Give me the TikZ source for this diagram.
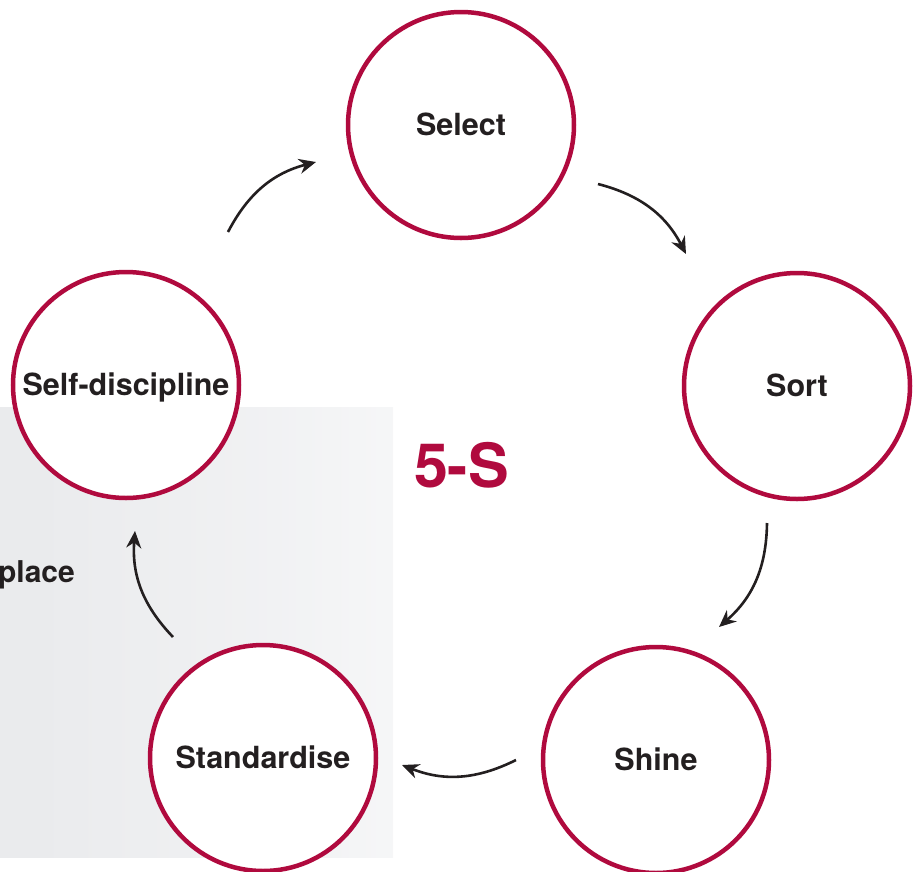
\documentclass[tikz,border=0pt]{standalone}
\usepackage{fontspec}
\setmainfont{TeX Gyre Heros}
\usetikzlibrary{arrows.meta}
\definecolor{crim}{RGB}{176,10,62}
\definecolor{ink}{RGB}{35,31,32}
\pgfdeclarehorizontalshading{panelfade}{100bp}{
  rgb(0bp)=(0.906,0.91,0.918);
  rgb(30bp)=(0.918,0.922,0.93);
  rgb(60bp)=(0.945,0.948,0.954);
  rgb(85bp)=(0.975,0.977,0.98);
  rgb(100bp)=(0.992,0.992,0.994)}
\tikzset{
  stage/.style={circle, draw=crim, line width=4.5pt, fill=white, minimum size=226pt, inner sep=0pt,
    font=\fontsize{30.5}{30.5}\selectfont\bfseries, text=ink, text height=21.5pt, text depth=0pt},
  flow/.style={draw=ink, line width=2.6pt, -{Stealth[length=17pt,width=15pt]}, bend left=24}
}
\begin{document}
\begin{tikzpicture}[x=1pt,y=-1pt]
\useasboundingbox (0,0) rectangle (919,871);
\shade[shading=panelfade] (0,407) rectangle (393,857);
\node[stage] (sel) at (461,125) {Select};
\node[stage] (sort) at (797,386) {Sort};
\node[stage] (shine) at (656,760) {Shine};
\node[stage] (std) at (263,758) {Standardise};
\node[stage] (self) at (126,385) {Self-discipline};
\node[anchor=base, font=\fontsize{61}{61}\selectfont\bfseries, text=crim, inner sep=0pt] (title) at (461.5,487) {5-S};
\node[anchor=base east, font=\fontsize{30}{30}\selectfont\bfseries, text=ink, inner sep=0pt] (place) at (75,582) {place};
\coordinate (a1s) at (598,184); \coordinate (a1e) at (686,254);
\coordinate (a2s) at (767,523); \coordinate (a2e) at (719,627);
\coordinate (a3s) at (516,760); \coordinate (a3e) at (402,765);
\coordinate (a4s) at (173,637); \coordinate (a4e) at (135,531);
\coordinate (a5s) at (228,232); \coordinate (a5e) at (316,162);
\draw[flow] (a1s) to (a1e);
\draw[flow] (a2s) to (a2e);
\draw[flow] (a3s) to (a3e);
\draw[flow] (a4s) to (a4e);
\draw[flow] (a5s) to (a5e);
\end{tikzpicture}
\end{document}
